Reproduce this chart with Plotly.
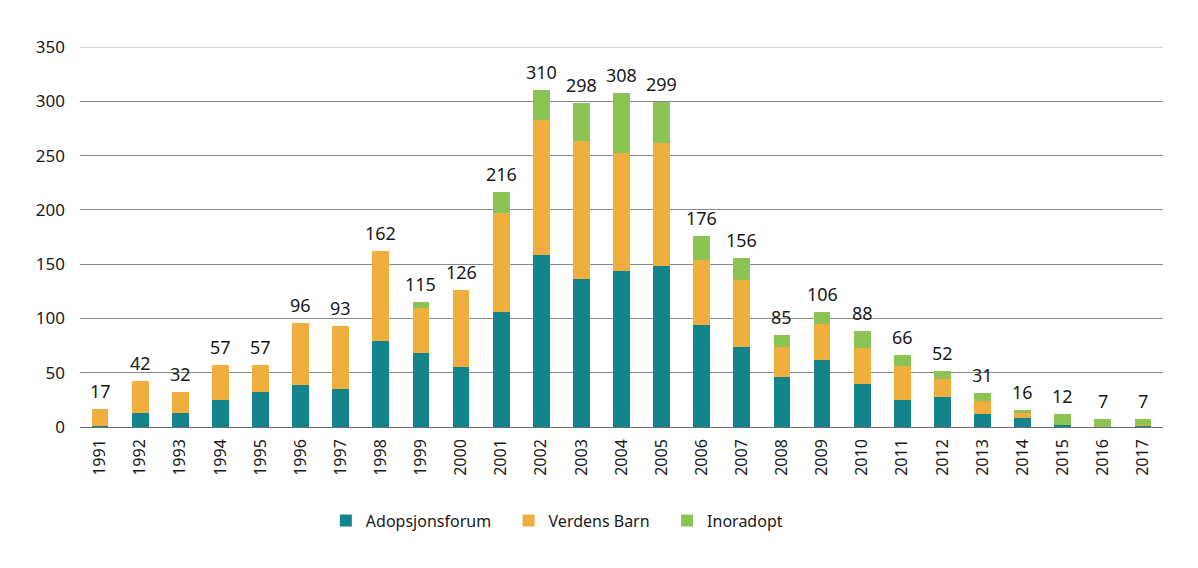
import plotly.graph_objects as go

years = [str(y) for y in range(1991, 2018)]
adopsjonsforum = [1, 13, 13, 25, 32, 39, 35, 79, 68, 55, 106, 158, 136, 144, 148, 94, 74, 46, 62, 40, 25, 28, 12, 8, 2, 0, 1]
verdens_barn = [16, 29, 19, 32, 25, 57, 58, 83, 42, 71, 91, 125, 127, 108, 114, 60, 61, 28, 33, 33, 31, 16, 12, 5, 0, 0, 1]
inoradopt = [0, 0, 0, 0, 0, 0, 0, 0, 5, 0, 19, 27, 35, 56, 37, 22, 21, 11, 11, 15, 10, 8, 7, 3, 10, 7, 5]
y_ticks = [0, 50, 100, 150, 200, 250, 300, 350]

totals = [a + v + i for a, v, i in zip(adopsjonsforum, verdens_barn, inoradopt)]

FONT = "Noto Sans"
PAD = "\u00a0" * 3
series = [
    ("Adopsjonsforum", adopsjonsforum, "#13848c"),
    ("Verdens Barn", verdens_barn, "#efae3e"),
    ("Inoradopt", inoradopt, "#8bc355"),
]

fig = go.Figure()
for name, vals, col in series:
    fig.add_trace(go.Bar(
        x=years, y=vals, name=name + PAD,
        marker=dict(color=col, line=dict(width=0)),
        hoverinfo="skip",
    ))

for idx, t in enumerate(totals):
    fig.add_annotation(x=idx, y=t, xref="x", yref="y", text=str(t), showarrow=False,
                       yanchor="bottom", yshift=4,
                       font=dict(family=FONT, size=18, color="#1a1a1a"))

fig.add_shape(type="line", xref="paper", x0=0, x1=1, yref="y",
              y0=y_ticks[-1], y1=y_ticks[-1], line=dict(color="#c8c8c8", width=1.5))

fig.update_layout(
    width=1198, height=568,
    barmode="stack", bargap=0.58,
    paper_bgcolor="white", plot_bgcolor="white",
    margin=dict(l=80, r=35, t=47, b=141),
    font=dict(family=FONT, size=16, color="#1a1a1a"),
    showlegend=True,
    legend=dict(orientation="h", x=0.227, xanchor="left", y=-0.246, yanchor="middle",
                font=dict(size=16), traceorder="normal"),
    xaxis=dict(type="category", categoryorder="array", categoryarray=years,
               range=[-0.5, len(years) - 0.5], tickangle=-90, showgrid=False,
               showline=False, ticks="", tickfont=dict(size=16), ticklabelstandoff=8),
    yaxis=dict(range=[0, 350], tickvals=y_ticks, showgrid=True, gridcolor="#8a8a8a",
               gridwidth=1, zeroline=True, zerolinecolor="#6e6e6e", zerolinewidth=1,
               ticks="", tickfont=dict(size=17), ticklabelstandoff=14),
)

fig.write_html("out.html")
